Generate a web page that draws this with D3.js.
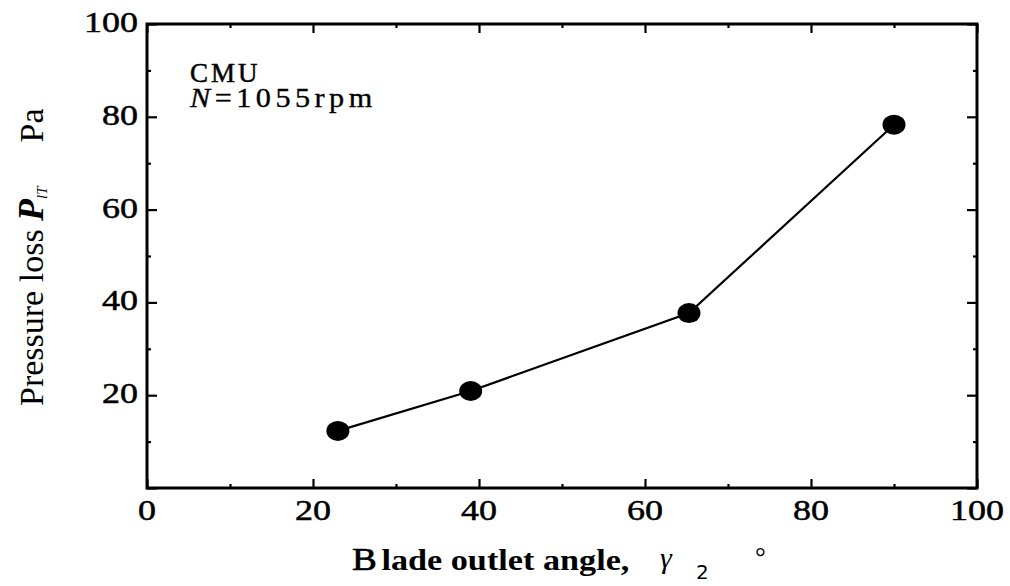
<!DOCTYPE html>
<html><head><meta charset="utf-8">
<script src="https://cdn.jsdelivr.net/npm/d3@7"></script>
<style>
html,body{margin:0;padding:0;background:#fff;}
svg text{font-family:"Liberation Serif","Times New Roman",serif;fill:#000;}
</style></head>
<body>
<svg id="chart" width="1010" height="586"></svg>
<script>
const angles = [23, 39, 65.3, 90];
const pressureLoss = [12.3, 20.9, 37.7, 78.3];
const majorTicks = [0, 20, 40, 60, 80, 100];
const minorTicks = [10, 30, 50, 70, 90];
const yTickLabels = ["", "20", "40", "60", "80", "100"];
const xTickLabels = ["0", "20", "40", "60", "80", "100"];

const svg = d3.select("#chart");
const L = 147, R = 977, T = 24, B = 488;
const x = d3.scaleLinear().domain([0, 100]).range([L, R]);
const y = d3.scaleLinear().domain([0, 100]).range([B, T]);
const SX = 1.2;

function styleAxis(g){
  g.select(".domain").remove();
  g.selectAll(".tick line").attr("stroke", "#000").attr("stroke-width", 2.2);
}

svg.append("g").attr("transform", `translate(0,${B})`)
  .call(d3.axisBottom(x).tickValues(minorTicks).tickSize(-4).tickFormat("")).call(styleAxis);
svg.append("g").attr("transform", `translate(0,${T})`)
  .call(d3.axisTop(x).tickValues(minorTicks).tickSize(-4).tickFormat("")).call(styleAxis);
svg.append("g").attr("transform", `translate(${L},0)`)
  .call(d3.axisLeft(y).tickValues(minorTicks).tickSize(-4).tickFormat("")).call(styleAxis);
svg.append("g").attr("transform", `translate(${R},0)`)
  .call(d3.axisRight(y).tickValues(minorTicks).tickSize(-4).tickFormat("")).call(styleAxis);

svg.append("g").attr("transform", `translate(0,${B})`)
  .call(d3.axisBottom(x).tickValues(majorTicks).tickSize(-9).tickFormat("")).call(styleAxis);
svg.append("g").attr("transform", `translate(0,${T})`)
  .call(d3.axisTop(x).tickValues(majorTicks).tickSize(-9).tickFormat("")).call(styleAxis);
svg.append("g").attr("transform", `translate(${L},0)`)
  .call(d3.axisLeft(y).tickValues(majorTicks).tickSize(-10).tickFormat("")).call(styleAxis);
svg.append("g").attr("transform", `translate(${R},0)`)
  .call(d3.axisRight(y).tickValues(majorTicks).tickSize(-10).tickFormat("")).call(styleAxis);

svg.append("rect").attr("x", L).attr("y", T).attr("width", R - L).attr("height", B - T)
  .attr("fill", "none").attr("stroke", "#000").attr("stroke-width", 3);

svg.append("g").selectAll("g").data(majorTicks).join("g")
  .attr("transform", (d) => `translate(${x(d)},520) scale(${SX},1)`)
  .append("text").attr("text-anchor", "middle").attr("font-size", 30)
  .attr("stroke", "#000").attr("stroke-width", 0.5)
  .text((d, i) => xTickLabels[i]);

svg.append("g").selectAll("g").data(majorTicks).join("g")
  .attr("transform", (d) => `translate(138,${y(d) + 8}) scale(${SX},1)`)
  .append("text").attr("text-anchor", "end").attr("font-size", 30)
  .attr("stroke", "#000").attr("stroke-width", 0.5)
  .text((d, i) => yTickLabels[i]);

const line = d3.line().x((d) => x(d[0])).y((d) => y(d[1]));
const pts = angles.map((a, i) => [a, pressureLoss[i]]);
svg.append("path").datum(pts).attr("d", line)
  .attr("fill", "none").attr("stroke", "#000").attr("stroke-width", 2.2);
svg.append("g").selectAll("ellipse").data(pts).join("ellipse")
  .attr("cx", (d) => x(d[0])).attr("cy", (d) => y(d[1]))
  .attr("rx", 11.5).attr("ry", 10).attr("fill", "#000");

const ann = svg.append("g").attr("transform", `translate(190,82)`);
ann.append("text").attr("font-size", 27).attr("letter-spacing", 3)
  .attr("stroke", "#000").attr("stroke-width", 0.5).text("CMU");
const ann2 = svg.append("g").attr("transform", `translate(190,107) scale(1.12,1)`);
const t2 = ann2.append("text").attr("font-size", 27).attr("letter-spacing", 4)
  .attr("stroke", "#000").attr("stroke-width", 0.35);
t2.append("tspan").attr("font-style", "italic").text("N");
t2.append("tspan").text("=1055rpm");

const xl = svg.append("g").attr("transform", `translate(352,570) scale(1.16,1)`);
const xt = xl.append("text").attr("font-size", 29.5).attr("font-weight", "bold");
xt.append("tspan").attr("font-size", 32).attr("font-weight", "normal")
  .attr("stroke", "#000").attr("stroke-width", 0.7).text("B");
xt.append("tspan").attr("dx", 4).text("lade outlet angle,");
svg.append("text").attr("x", 660).attr("y", 568).attr("font-size", 30)
  .attr("font-style", "italic").text("γ");
svg.append("text").attr("x", 696).attr("y", 579).attr("font-size", 20)
  .style("font-family", "'DejaVu Sans',sans-serif").text("2");
svg.append("text").attr("x", 755).attr("y", 566).attr("font-size", 27).text("°");

const yl = svg.append("g").attr("transform", `translate(43,406) rotate(-90)`);
const yt = yl.append("text").attr("font-size", 34);
yt.append("tspan").text("Pressure loss ");
yt.append("tspan").attr("font-style", "italic").attr("font-weight", "bold").attr("font-size", 36).text("P");
yt.append("tspan").attr("font-style", "italic").attr("font-size", 15).attr("dy", 4).text("lT");
yt.append("tspan").attr("dy", -4).attr("dx", 44).text("Pa");
</script>
</body></html>
